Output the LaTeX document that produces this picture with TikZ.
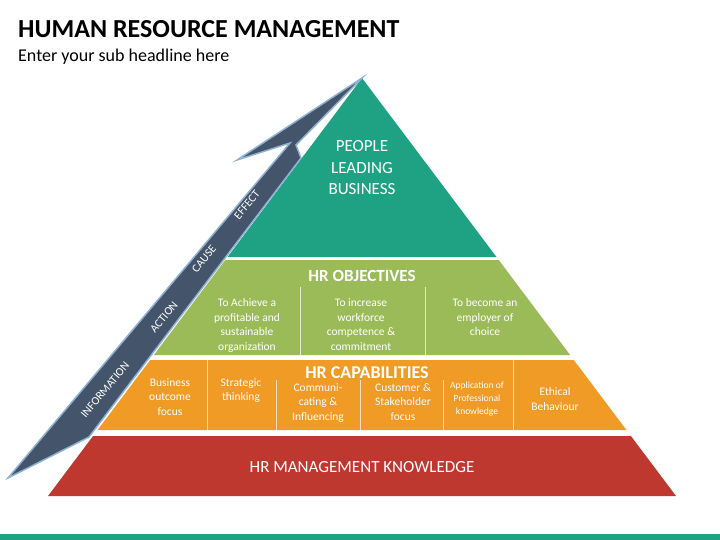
\documentclass[tikz,border=0pt]{standalone}
\usepackage{fontspec}
\setmainfont{Carlito}
\definecolor{hrteal}{HTML}{1FA283}
\definecolor{hrgreen}{HTML}{9BBB59}
\definecolor{hrorange}{HTML}{F19B27}
\definecolor{hrred}{HTML}{BE3830}
\definecolor{hrslate}{HTML}{44546A}
\definecolor{hredge}{HTML}{8FB1D2}
\begin{document}
\begin{tikzpicture}[x=1pt,y=-1pt,
		bandtext/.style={text=white, align=center, inner sep=0pt, font=\fontsize{17}{21.5}\selectfont},
		headtext/.style={text=white, inner sep=0pt, font=\fontsize{17}{20}\selectfont\bfseries},
		celltext/.style={text=white, align=center, inner sep=0pt, anchor=north, font=\fontsize{11.5}{14.5}\selectfont},
		smalltext/.style={celltext, font=\fontsize{9.5}{12.8}\selectfont},
		arrowtext/.style={text=white, inner sep=0pt, rotate=50, font=\fontsize{11.5}{12}\selectfont},
		divider/.style={draw=white, draw opacity=0.7, line width=0.7pt}]
		\useasboundingbox (0,0) rectangle (720,540);
		\node[black, anchor=base west, inner sep=0pt, font=\fontsize{26}{30}\selectfont\bfseries] (title) at (18,37.5) {HUMAN RESOURCE MANAGEMENT};
		\node[black, anchor=base west, inner sep=0pt, font=\fontsize{18}{22}\selectfont] (subtitle) at (18,62) {Enter your sub headline here};
		\fill[hrteal] (362,78) -- (496.5,257) -- (227.5,257) -- cycle;
		\fill[hrgreen] (225.3,260) -- (498.7,260) -- (570.1,355) -- (153.9,355) -- cycle;
		\fill[hrorange] (150.2,360) -- (573.8,360) -- (626.4,430) -- (97.6,430) -- cycle;
		\fill[hrred] (93.1,436) -- (630.9,436) -- (676,496) -- (48,496) -- cycle;
		\fill[hrteal] (0,534) rectangle (720,540);
		\draw[divider] (300,287) -- (300,355);
		\draw[divider] (425,287) -- (425,355);
		\draw[divider] (207,360) -- (207,430);
		\draw[divider] (276,380) -- (276,430);
		\draw[divider] (360,380) -- (360,430);
		\draw[divider] (443,380) -- (443,430);
		\draw[divider] (513,360) -- (513,430);
		\node[bandtext] (people) at (362,168) {PEOPLE\\LEADING\\BUSINESS};
		\node[headtext] (objectives) at (362,276) {HR OBJECTIVES};
		\node[celltext] (obj1) at (247,298.5) {To Achieve a\\profitable and\\sustainable\\organization};
		\node[celltext] (obj2) at (361,298.5) {To increase\\workforce\\competence \&\\commitment};
		\node[celltext] (obj3) at (485,298.5) {To become an\\employer of\\choice};
		\node[headtext, font=\fontsize{18}{20}\selectfont\bfseries] (capabilities) at (367,373) {HR CAPABILITIES};
		\node[celltext] (cap1) at (170,378) {Business\\outcome\\focus};
		\node[celltext] (cap2) at (241,378) {Strategic\\thinking};
		\node[celltext] (cap3) at (318,383) {Communi-\\cating \&\\Influencing};
		\node[celltext] (cap4) at (403,383) {Customer \&\\Stakeholder\\focus};
		\node[smalltext] (cap5) at (477,382) {Application of\\Professional\\knowledge};
		\node[celltext] (cap6) at (555,387.5) {Ethical\\Behaviour};
		\node[bandtext] (knowledge) at (362,467) {HR MANAGEMENT KNOWLEDGE};
		\draw[draw=hredge, line width=1.5pt, fill=hrslate, line join=miter] (8,478) -- (89,437) -- (301,158) -- (296,145) -- (362,78) -- (237,160) -- (290,143) -- cycle;
		\node[arrowtext] (information) at (105,390) {INFORMATION};
		\node[arrowtext] (action) at (164,317) {ACTION};
		\node[arrowtext] (cause) at (204,259) {CAUSE};
		\node[arrowtext] (effect) at (247,205) {EFFECT};
	\end{tikzpicture}
\end{document}
